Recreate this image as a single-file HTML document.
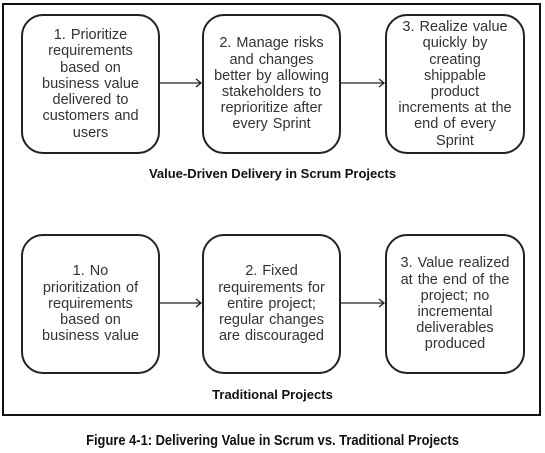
<!DOCTYPE html>
<html><head><style>
body{margin:0;width:545px;height:453px;background:#fff;font-family:"Liberation Sans",sans-serif;position:relative;overflow:hidden}
.frame{position:absolute;left:2px;top:3px;width:535px;height:409px;border:2px solid #111}
.b{position:absolute;width:135px;height:137px;border:2px solid #222;border-radius:22px;display:flex;align-items:center;justify-content:center;text-align:center;font-size:14.5px;line-height:16.2px;color:#333;box-sizing:border-box;padding:0 2px;white-space:nowrap;word-spacing:1px}
.t{position:absolute;width:545px;text-align:center;font-weight:bold;font-size:13px;color:#111}
svg{position:absolute;left:0;top:0}
</style></head><body>
<div class="frame"></div>
<div class="b" style="left:21px;top:14px;width:139px;height:140px"><div>1. Prioritize<br>requirements<br>based on<br>business value<br>delivered to<br>customers and<br>users</div></div>
<div class="b" style="left:202px;top:14px;width:139px;height:140px"><div>2. Manage risks<br>and changes<br>better by allowing<br>stakeholders to<br>reprioritize after<br>every Sprint</div></div>
<div class="b" style="left:385px;top:14px;width:140px;height:140px"><div>3. Realize value<br>quickly by<br>creating<br>shippable<br>product<br>increments at the<br>end of every<br>Sprint</div></div>
<div class="t" style="top:166px;left:0">Value-Driven Delivery in Scrum Projects</div>
<div class="b" style="left:21px;top:234px;width:139px;height:140px"><div>1. No<br>prioritization of<br>requirements<br>based on<br>business value</div></div>
<div class="b" style="left:202px;top:234px;width:139px;height:140px"><div>2. Fixed<br>requirements for<br>entire project;<br>regular changes<br>are discouraged</div></div>
<div class="b" style="left:385px;top:234px;width:140px;height:140px"><div>3. Value realized<br>at the end of the<br>project; no<br>incremental<br>deliverables<br>produced</div></div>
<div class="t" style="top:387px;left:0">Traditional Projects</div>
<div class="t" style="top:432px;left:0;font-size:15px;transform:scaleX(0.86)">Figure 4-1: Delivering Value in Scrum vs. Traditional Projects</div>
<svg width="545" height="453">
<g stroke="#222" stroke-width="1.3" fill="none">
<line x1="160" y1="83" x2="201" y2="83"/><polyline points="196,79 201,83 196,87"/>
<line x1="341" y1="83" x2="384" y2="83"/><polyline points="379,79 384,83 379,87"/>
<line x1="160" y1="303" x2="201" y2="303"/><polyline points="196,299 201,303 196,307"/>
<line x1="341" y1="303" x2="384" y2="303"/><polyline points="379,299 384,303 379,307"/>
</g></svg>
</body></html>
